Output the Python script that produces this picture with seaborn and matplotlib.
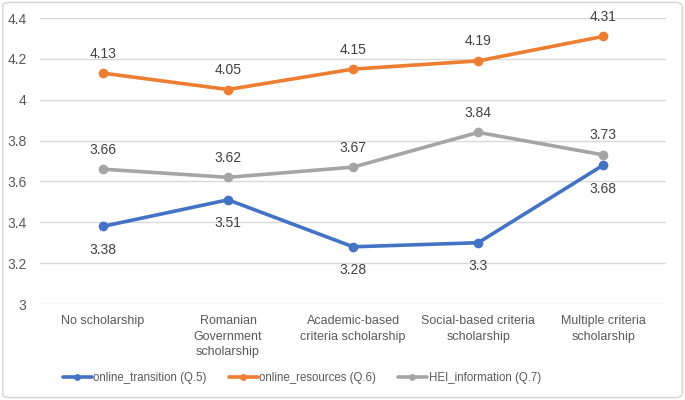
import seaborn as sns
import matplotlib.pyplot as plt
import pandas as pd
from matplotlib.patches import FancyBboxPatch

categories = ["No scholarship", "Romanian\nGovernment\nscholarship",
              "Academic-based\ncriteria scholarship", "Social-based criteria\nscholarship",
              "Multiple criteria\nscholarship"]
online_transition = [3.38, 3.51, 3.28, 3.30, 3.68]
online_resources = [4.13, 4.05, 4.15, 4.19, 4.31]
hei_information = [3.66, 3.62, 3.67, 3.84, 3.73]
series_names = ["online_transition (Q.5)", "online_resources (Q.6)", "HEI_information (Q.7)"]
colors = ["#4472C4", "#ED7D31", "#A5A5A5"]
yticks = [3, 3.2, 3.4, 3.6, 3.8, 4, 4.2, 4.4]
ytick_labels = ["3", "3.2", "3.4", "3.6", "3.8", "4", "4.2", "4.4"]

sns.set_theme(style="white")
plt.rcParams['font.family'] = ['Liberation Sans', 'DejaVu Sans']
txt = "#595959"

rows = []
for name, vals in zip(series_names, [online_transition, online_resources, hei_information]):
    for i, v in enumerate(vals):
        rows.append({"pos": i, "value": v, "series": name})
df = pd.DataFrame(rows)

fig = plt.figure(figsize=(6.85, 4.0), dpi=100)
ax = fig.add_axes([0.059, 0.24, 0.913, 0.715])
fig.patches.append(FancyBboxPatch((0.004, 0.006), 0.992, 0.988, boxstyle="round,pad=0,rounding_size=0.01",
                                  transform=fig.transFigure, fc="none", ec="#D9D9D9", lw=1.2))

sns.lineplot(data=df, x="pos", y="value", hue="series", palette=colors, marker="o",
             markersize=7, markeredgewidth=0, linewidth=2.6, ax=ax, sort=False)

ax.set_xlim(-0.5, len(categories) - 0.5)
ax.set_ylim(3, 4.4)
ax.set_yticks(yticks)
ax.set_yticklabels(ytick_labels, color=txt, fontsize=10)
ax.set_xticks(range(len(categories)))
ax.set_xticklabels(categories, color=txt, fontsize=9, va="top", linespacing=1.4)
ax.tick_params(axis="x", length=0, pad=8)
ax.tick_params(axis="y", length=0, pad=10)
ax.set_xlabel("")
ax.set_ylabel("")
ax.yaxis.grid(True, color="#D9D9D9", lw=1)
for s in ax.spines.values():
    s.set_visible(False)

def fmt(v):
    return f"{v:g}"

for i, v in enumerate(online_transition):
    ax.annotate(fmt(v), (i, v), xytext=(0, -12), textcoords="offset points",
                ha="center", va="top", fontsize=10, color="#404040")
for i, v in enumerate(online_resources):
    ax.annotate(fmt(v), (i, v), xytext=(0, 9), textcoords="offset points",
                ha="center", va="bottom", fontsize=10, color="#404040")
for i, v in enumerate(hei_information):
    ax.annotate(fmt(v), (i, v), xytext=(0, 9), textcoords="offset points",
                ha="center", va="bottom", fontsize=10, color="#404040")

handles, labels = ax.get_legend_handles_labels()
ax.legend(handles, labels, loc="upper center", bbox_to_anchor=(0.418, -0.2), ncol=3,
          frameon=False, fontsize=8.3, labelcolor=txt, handlelength=2.5, handletextpad=0.15,
          columnspacing=1.9, markerscale=0.7)

fig.savefig("out.png", dpi=100)
